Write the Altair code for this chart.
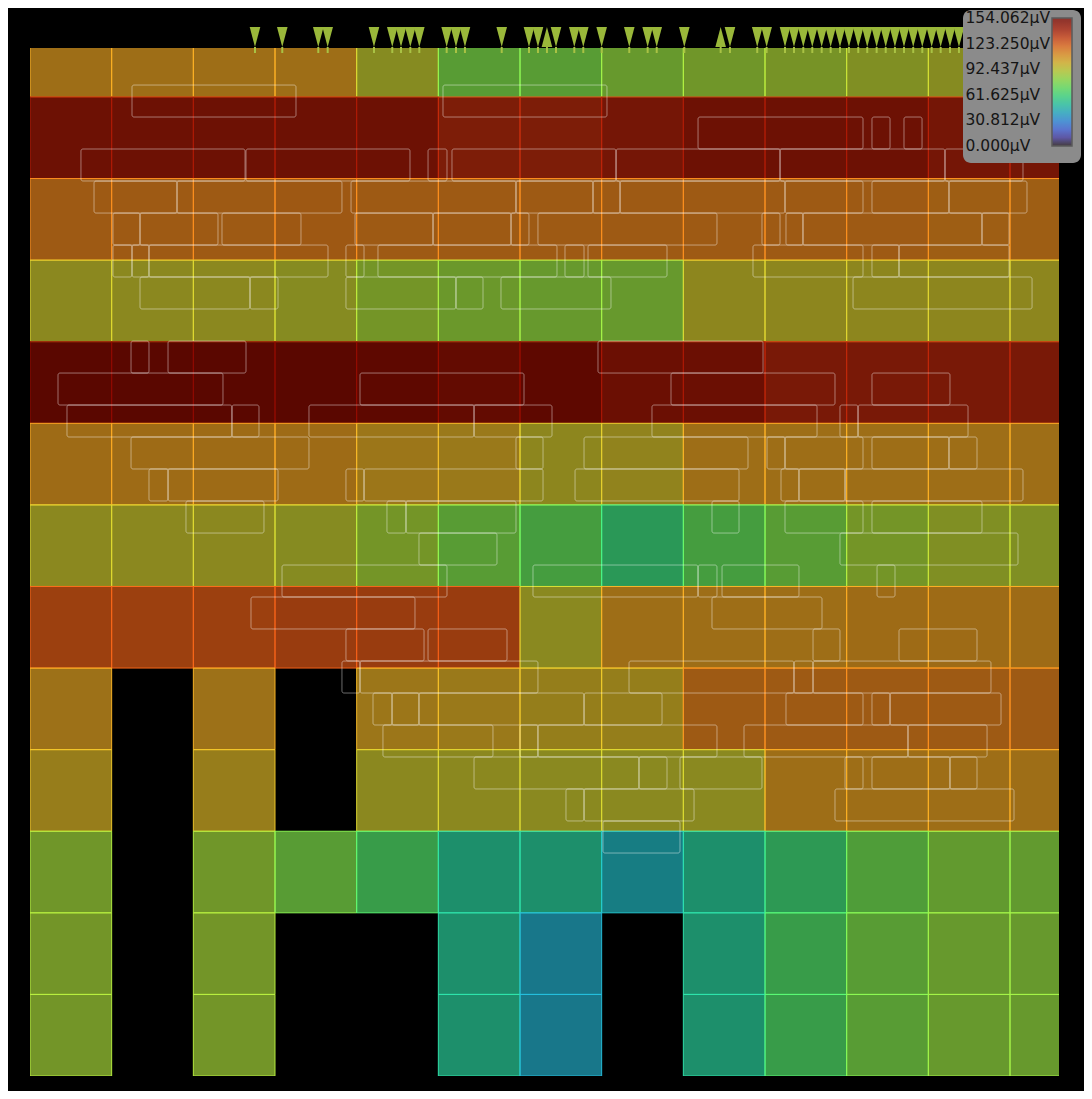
import altair as alt
import pandas as pd

VMAX = 154.062
# colour-bar tick values (ends nudged just inside the range so their labels centre on the bar ends)
LEGEND_VALUES = [0.0004, 30.8124, 61.6248, 92.4372, 123.2496, 154.0616]

# amplitude per electrode (µV); rows listed from the top (first row only partly visible); None = no electrode
GRID = [
    [106.3, 106.3, 106.3, 106.3, 92.4, 77.0, 77.0, 81.7, 84.7, 87.0, 90.1, 92.4, 92.4],
    [143.3, 143.3, 143.3, 143.3, 143.3, 137.1, 137.1, 140.2, 143.3, 143.3, 143.3, 140.2, 140.2],
    [114.0, 114.0, 114.0, 114.8, 114.0, 114.0, 114.0, 114.0, 114.0, 114.0, 114.0, 112.5, 112.5],
    [94.7, 94.7, 94.7, 92.4, 86.3, 83.2, 81.7, 81.7, 95.5, 95.5, 95.5, 95.5, 95.5],
    [154.062, 154.062, 154.062, 154.062, 151.0, 147.9, 151.0, 144.0, 144.0, 138.5, 138.5, 138.5, 138.5],
    [107.8, 107.8, 107.8, 107.8, 103.2, 101.7, 95.5, 97.1, 106.3, 106.3, 106.3, 106.3, 106.3],
    [94.7, 94.7, 94.7, 92.4, 86.3, 77.0, 70.9, 60.1, 70.9, 77.0, 86.3, 90.1, 90.1],
    [123.2, 123.2, 123.2, 124.8, 124.8, 124.8, 94.0, 106.3, 106.3, 106.3, 107.8, 107.8, 107.8],
    [104.8, None, 104.8, None, 103.2, 101.7, 99.4, 99.4, 114.0, 114.0, 114.0, 114.0, 114.0],
    [100.1, None, 100.1, None, 94.7, 94.7, 94.0, 94.0, 94.0, 106.3, 106.3, 106.3, 106.3],
    [84.7, None, 84.7, 77.0, 66.2, 52.4, 52.4, 43.1, 52.4, 61.6, 73.9, 80.1, 80.1],
    [85.5, None, 85.5, None, None, 52.4, 40.1, None, 52.4, 66.2, 77.0, 81.7, 81.7],
    [85.5, None, 85.5, None, None, 52.4, 40.1, None, 52.4, 66.2, 77.0, 81.7, 81.7],
]

X_DOMAIN = [0, 12.6]
Y_DOMAIN = [0, 12.6]

# unit footprints: lane top (data units) -> list of (start, end) along x
LANE_H = 0.392
UNITS = {
    12.146: [(1.249, 3.257), (5.057, 7.065)],
    11.754: [(8.180, 10.200), (10.310, 10.531), (10.702, 10.923)],
    11.362: [(0.624, 2.633), (2.645, 4.653), (4.874, 5.106), (5.167, 7.176), (7.176, 9.184),
             (9.184, 11.204), (11.204, 12.159)],
    10.969: [(0.784, 1.800), (1.800, 3.820), (3.931, 5.951), (5.951, 6.894), (6.894, 7.225),
             (7.225, 9.245), (9.245, 10.200), (10.310, 11.253), (11.253, 12.208)],
    10.577: [(1.016, 1.347), (1.347, 2.302), (2.351, 3.318), (3.980, 4.935), (4.935, 5.890),
             (5.890, 6.110), (6.220, 8.412), (8.963, 9.184), (9.257, 9.465), (9.465, 11.657),
             (11.657, 11.988)],
    10.185: [(1.016, 1.249), (1.249, 1.457), (1.457, 3.649), (3.869, 4.090), (4.261, 6.453),
             (6.551, 6.784), (6.833, 7.800), (8.853, 10.200), (10.310, 10.641), (10.641, 11.988)],
    9.793: [(1.347, 2.694), (2.694, 3.037), (3.869, 5.216), (5.216, 5.547), (5.767, 7.114),
            (10.078, 12.270)],
    9.008: [(1.237, 1.457), (1.690, 2.645), (6.955, 8.976)],
    8.616: [(0.343, 2.363), (4.041, 6.049), (7.849, 9.857), (10.310, 11.265)],
    8.224: [(0.453, 2.473), (2.473, 2.804), (3.416, 5.437), (5.437, 6.392), (7.616, 9.637),
            (9.918, 10.139), (10.139, 11.486)],
    7.832: [(1.237, 3.416), (5.951, 6.282), (6.784, 8.792), (9.025, 9.245), (9.245, 10.200),
            (10.310, 11.253), (11.253, 11.596)],
    7.440: [(1.457, 1.690), (1.690, 3.037), (3.869, 4.090), (4.090, 6.282), (6.674, 8.682),
            (9.196, 9.416), (9.416, 9.980), (9.980, 12.159)],
    7.047: [(1.910, 2.865), (4.371, 4.604), (4.604, 5.951), (8.351, 8.682), (9.245, 10.200),
            (10.310, 11.657)],
    6.655: [(4.763, 5.718), (9.918, 12.098)],
    6.263: [(3.086, 5.106), (6.159, 8.180), (8.180, 8.412), (8.474, 9.416), (10.372, 10.592)],
    5.871: [(2.706, 4.714), (8.351, 9.698)],
    5.479: [(3.869, 4.825), (4.874, 5.841), (9.588, 9.918), (10.641, 11.596)],
    5.086: [(3.820, 4.041), (4.041, 6.220), (7.335, 9.355), (9.355, 9.588), (9.588, 11.767)],
    4.694: [(4.200, 4.433), (4.433, 4.763), (4.763, 6.784), (6.784, 7.739), (9.257, 10.200),
            (10.310, 10.531), (10.531, 11.890)],
    4.302: [(4.322, 5.669), (6.000, 6.220), (6.220, 8.412), (8.743, 10.751), (10.751, 11.719)],
    3.910: [(5.437, 7.457), (7.457, 7.800), (7.959, 8.963), (9.980, 10.200), (10.310, 11.265),
            (11.265, 11.596)],
    3.518: [(6.563, 6.784), (6.784, 8.131), (9.857, 12.049)],
    3.125: [(7.016, 7.959)],
}

# event markers along the top edge (x in data units)
TRI_DOWN = [2.755, 3.089, 3.530, 3.645, 4.212, 4.436, 4.543, 4.657, 4.767, 5.102, 5.216, 5.326,
            5.776, 6.110, 6.220, 6.441, 6.665, 6.775, 7.000, 7.338, 7.563, 7.674, 8.012, 8.571,
            8.905, 9.020, 9.245, 9.355, 9.469, 9.579, 9.694, 9.804, 9.918, 10.028, 10.142,
            10.252, 10.367, 10.478, 10.591, 10.702, 10.815, 10.926, 11.041, 11.151, 11.265, 11.375]
TRI_UP = [6.330, 8.457]

# ---- tables ----
n_rows = len(GRID)
cell_records = []
for r, row in enumerate(GRID):
    for c, v in enumerate(row):
        if v is None:
            continue
        cell_records.append({"x0": c, "x1": c + 1, "y0": n_rows - 1 - r, "y1": n_rows - r, "v": v})
cells_df = pd.DataFrame(cell_records)

unit_records = []
for top, spans in UNITS.items():
    for a, b in spans:
        unit_records.append({"x0": a, "x1": b, "y0": top - LANE_H, "y1": top})
units_df = pd.DataFrame(unit_records)

down_df = pd.DataFrame({"x": TRI_DOWN})
up_df = pd.DataFrame({"x": TRI_UP})
all_tri_df = pd.DataFrame({"x": TRI_DOWN + TRI_UP})

xs = alt.Scale(domain=X_DOMAIN, nice=False, zero=False)
ys = alt.Scale(domain=Y_DOMAIN, nice=False, zero=False)
cs = alt.Scale(scheme="turbo", domain=[0, VMAX])
# border colour scale: same colours, kept separate so it is not merged into the colour bar legend
cs_stroke = alt.Scale(scheme="turbo", domain=[0, VMAX + 1e-6])

# labels sit to the left of the bar: an invisible (rotated) left title reserves their room
legend = alt.Legend(
    type="gradient",
    orient="none", legendX=933, legendY=-38, direction="vertical",
    title=".", titleOrient="left", titleOpacity=0, titlePadding=4,
    titleFont="DejaVu Sans", titleFontSize=76, titleFontWeight="normal",
    gradientLength=128, gradientThickness=20, values=LEGEND_VALUES,
    gradientOpacity=0.68, gradientStrokeColor="#454545", gradientStrokeWidth=1.5,
    labelExpr="format(datum.value, '.3f') + 'µV'",
    labelOffset={"expr": "-106.5"},
    labelFont="DejaVu Sans", labelFontSize=15.5, labelColor="#151515", labelOverlap=False,
    fillColor="#8b8b8b", cornerRadius=8, padding=8,
)

cells = alt.Chart(cells_df).mark_rect(
    clip=True, fillOpacity=0.62, strokeWidth=1, strokeOpacity=0.95
).encode(
    x=alt.X("x0:Q", scale=xs, axis=alt.Axis(labels=False, ticks=False, grid=False,
                                            domainColor="#777777", domainWidth=1, title=None)),
    x2="x1:Q",
    y=alt.Y("y0:Q", scale=ys, axis=None),
    y2="y1:Q",
    color=alt.Color("v:Q", scale=cs, legend=legend),
    stroke=alt.Stroke("v:Q", scale=cs_stroke, legend=None),
)

units = alt.Chart(units_df).mark_rect(
    filled=False, stroke="white", strokeOpacity=0.42, strokeWidth=1, cornerRadius=2, clip=True
).encode(
    x=alt.X("x0:Q", axis=None), x2="x1:Q",
    y=alt.Y("y0:Q", axis=None), y2="y1:Q",
)

stems = alt.Chart(all_tri_df).mark_rule(color="#a9c244", strokeWidth=2).encode(
    x=alt.X("x:Q", axis=None), y=alt.value(-1), y2=alt.value(5)
)

tri_down = alt.Chart(down_df).mark_point(
    shape="M-0.53,-1L0.53,-1L0,1Z", size=400, filled=True, color="#9ab83a", opacity=1, strokeWidth=0
).encode(x=alt.X("x:Q", axis=None), y=alt.value(-11))

tri_up = alt.Chart(up_df).mark_point(
    shape="M-0.53,1L0.53,1L0,-1Z", size=400, filled=True, color="#9ab83a", opacity=1, strokeWidth=0
).encode(x=alt.X("x:Q", axis=None), y=alt.value(-11))

chart = alt.layer(cells, units, stems, tri_down, tri_up).properties(
    width=1029, height=1028,
    autosize=alt.AutoSizeParams(type="none"),
    padding={"left": 22, "top": 40, "right": 25, "bottom": 15},
    background="black",
).configure_view(stroke=None)

chart.save("out.html", embed_options={"renderer": "svg", "actions": False})
